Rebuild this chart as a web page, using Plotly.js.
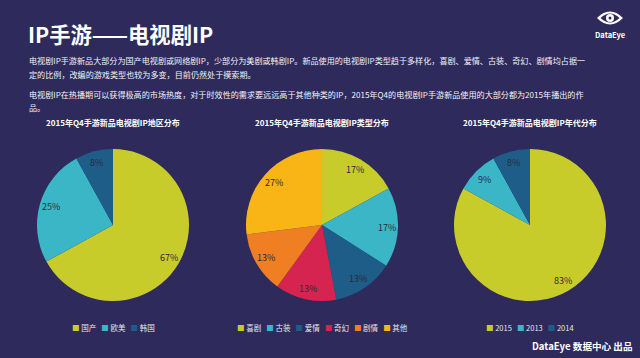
<!DOCTYPE html>
<html>
<head>
<meta charset="utf-8">
<script src="https://cdn.plot.ly/plotly-3.0.1.min.js"></script>
<style>html,body{margin:0;padding:0;background:#2e2a5b;}#chart{width:640px;height:358px;}</style>
</head>
<body>
<div id="chart"></div>
<script>
// ---- data ----
const regionLabels = ['国产', '欧美', '韩国'];
const regionValues = [67, 25, 8];
const genreLabels = ['喜剧', '古装', '爱情', '奇幻', '剧情', '其他'];
const genreValues = [17, 17, 13, 13, 13, 27];
const yearLabels = ['2015', '2013', '2014'];
const yearValues = [83, 9, 8];
const chartTitles = ['2015年Q4手游新品电视剧IP地区分布', '2015年Q4手游新品电视剧IP类型分布', '2015年Q4手游新品电视剧IP年代分布'];
const pageTitle = 'IP手游——电视剧IP';
const paragraphLines = [
  '电视剧IP手游新品大部分为国产电视剧或网络剧IP，少部分为美剧或韩剧IP。新品使用的电视剧IP类型趋于多样化，喜剧、爱情、古装、奇幻、剧情均占据一',
  '定的比例，改编的游戏类型也较为多变，目前仍然处于摸索期。',
  '电视剧IP在热播期可以获得极高的市场热度，对于时效性的需求要远远高于其他种类的IP，2015年Q4的电视剧IP手游新品使用的大部分都为2015年播出的作',
  '品。'
];
const footerText = 'DataEye 数据中心 出品';

// ---- style ----
const BG = '#2e2a5b';
const C_YG = '#c8cc2a', C_CY = '#3bb6c7', C_DB = '#1e5d88', C_CR = '#d5244f', C_OR = '#ef7f22', C_AM = '#f9b416';
const regionColors = [C_YG, C_CY, C_DB];
const genreColors = [C_YG, C_CY, C_DB, C_CR, C_OR, C_AM];
const yearColors = [C_YG, C_CY, C_DB];
const FONT = '"Noto Sans CJK SC", "Noto Sans", sans-serif';
const W = 640, H = 358;
const px = x => x / W;
const py = y => 1 - y / H;

const centers = [113, 322, 530];
const cy = 225, R = 76, LABEL_R = 0.85;

function pieTrace(labels, values, colors, cx) {
  return {
    type: 'pie', labels: labels, values: values, sort: false, direction: 'clockwise', rotation: 0,
    marker: {colors: colors, line: {width: 0}},
    textinfo: 'none',
    hoverinfo: 'label+percent', showlegend: false,
    domain: {x: [px(cx - R), px(cx + R)], y: [py(cy + R), py(cy - R)]}
  };
}

const sets = [[regionLabels, regionValues, regionColors], [genreLabels, genreValues, genreColors], [yearLabels, yearValues, yearColors]];
const data = sets.map((s, i) => pieTrace(s[0], s[1], s[2], centers[i]));

const annotations = [];
// percentage labels, placed along each slice's bisector (clockwise from 12 o'clock)
sets.forEach((s, i) => {
  const vals = s[1];
  const total = vals.reduce((a, b) => a + b, 0);
  let cum = 0;
  vals.forEach(v => {
    const mid = (cum + v / 2) / total * 2 * Math.PI;
    cum += v;
    const x = centers[i] + Math.sin(mid) * R * LABEL_R;
    const y = cy - Math.cos(mid) * R * LABEL_R;
    annotations.push({text: Math.round(v / total * 100) + '%', x: px(x), y: py(y), xref: 'paper', yref: 'paper', xanchor: 'center', yanchor: 'middle', showarrow: false, font: {family: FONT, size: 9, color: '#2a2a3c'}});
  });
});

annotations.push({text: '<b>' + pageTitle + '</b>', x: px(26), y: py(33), xref: 'paper', yref: 'paper', xanchor: 'left', yanchor: 'middle', showarrow: false, font: {family: FONT, size: 21.3, color: '#ffffff'}});
const lineY = [61, 74, 94, 107];
paragraphLines.forEach((t, i) => annotations.push({text: t, x: px(27), y: py(lineY[i]), xref: 'paper', yref: 'paper', xanchor: 'left', yanchor: 'middle', showarrow: false, font: {family: FONT, size: 8.1, color: '#f2f2f7'}}));
chartTitles.forEach((t, i) => annotations.push({text: '<b>' + t + '</b>', x: px(centers[i]), y: py(123), xref: 'paper', yref: 'paper', xanchor: 'center', yanchor: 'middle', showarrow: false, font: {family: FONT, size: 8, color: '#ffffff'}}));

function legendText(labels, colors) {
  return labels.map((l, i) => '<span style="color:' + colors[i] + '">■</span>\u00a0' + l).join('\u00a0\u00a0\u00a0');
}
sets.forEach((s, i) => {
  annotations.push({text: legendText(s[0], s[2]), x: px(centers[i]), y: py(327), xref: 'paper', yref: 'paper', xanchor: 'center', yanchor: 'middle', showarrow: false, font: {family: FONT, size: 7.5, color: '#e6e6ee'}});
});
annotations.push({text: '<b>' + footerText + '</b>', x: px(635), y: py(346), xref: 'paper', yref: 'paper', xanchor: 'right', yanchor: 'middle', showarrow: false, font: {family: FONT, size: 9.6, color: '#ffffff'}});
annotations.push({text: '<b>DataEye</b>', x: px(610), y: py(35), xref: 'paper', yref: 'paper', xanchor: 'center', yanchor: 'middle', showarrow: false, font: {family: FONT, size: 7.5, color: '#ffffff'}});

// logo eye
function P(x, y) { return px(x).toFixed(4) + ',' + py(y).toFixed(4); }
const shapes = [
  {type: 'path', xref: 'paper', yref: 'paper', path: 'M' + P(597, 18) + ' Q' + P(610, 5) + ' ' + P(623, 18) + ' Q' + P(610, 31) + ' ' + P(597, 18) + ' Z', fillcolor: '#ffffff', line: {width: 0}},
  {type: 'path', xref: 'paper', yref: 'paper', path: 'M' + P(600.5, 18) + ' Q' + P(610, 9) + ' ' + P(619.5, 18) + ' Q' + P(610, 27) + ' ' + P(600.5, 18) + ' Z', fillcolor: BG, line: {width: 0}},
  {type: 'circle', xref: 'paper', yref: 'paper', x0: px(606), x1: px(614), y0: py(22), y1: py(14), fillcolor: '#ffffff', line: {width: 0}},
  {type: 'circle', xref: 'paper', yref: 'paper', x0: px(608.5), x1: px(611.5), y0: py(19.5), y1: py(16.5), fillcolor: BG, line: {width: 0}}
];

const layout = {
  width: W, height: H, margin: {l: 0, r: 0, t: 0, b: 0},
  paper_bgcolor: BG, plot_bgcolor: BG,
  font: {family: FONT, color: '#ffffff'},
  showlegend: false, annotations: annotations, shapes: shapes
};
Plotly.newPlot('chart', data, layout, {displayModeBar: false, staticPlot: true});
</script>
</body>
</html>
